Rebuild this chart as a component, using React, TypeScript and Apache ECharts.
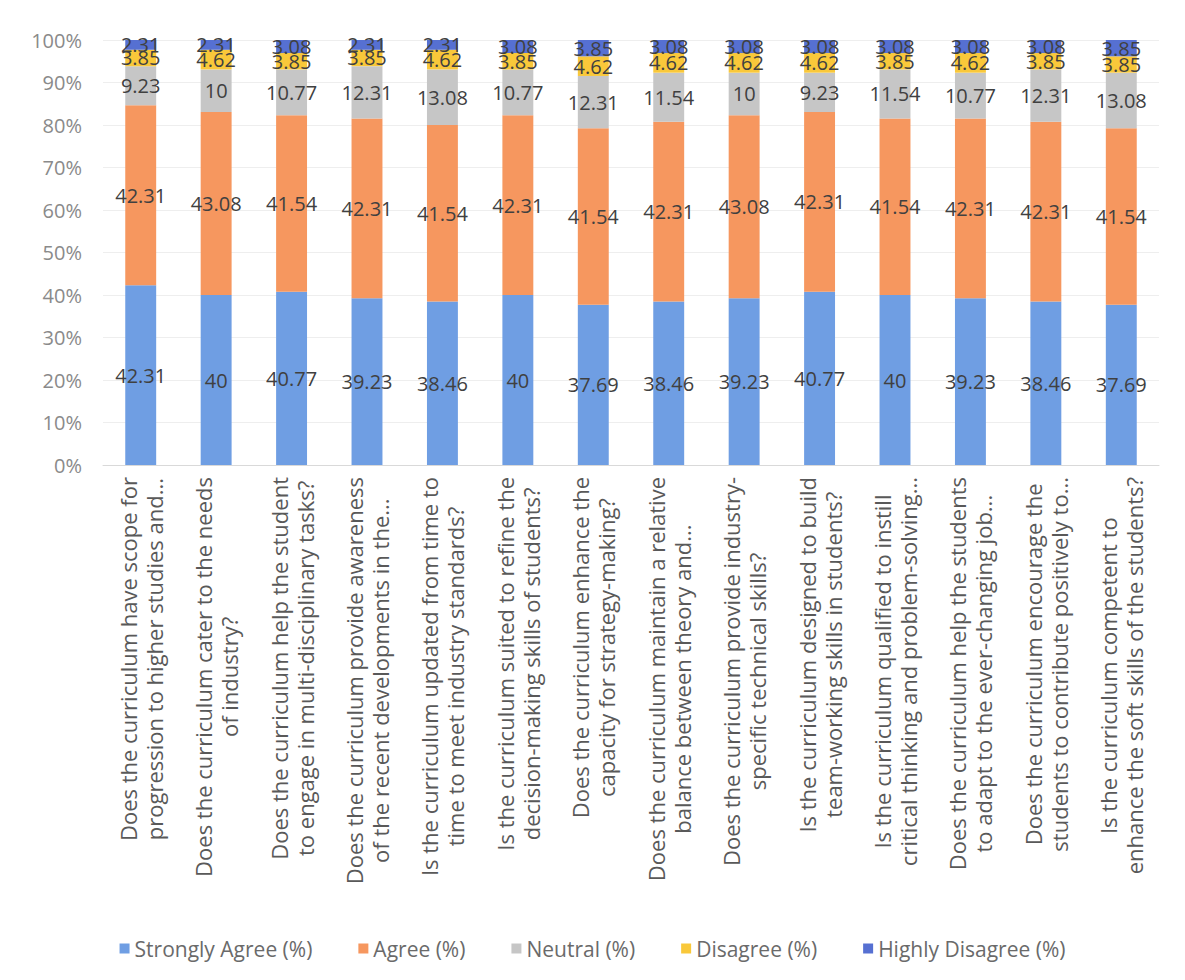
import React, { useEffect, useRef } from "react";
import * as echarts from "echarts";

const categories: string[] = [
  "Does the curriculum have scope for\nprogression to higher studies and...",
  "Does the curriculum cater to the needs\nof industry?",
  "Does the curriculum help the student\nto engage in multi-disciplinary tasks?",
  "Does the curriculum provide awareness\nof the recent developments in the...",
  "Is the curriculum updated from time to\ntime to meet industry standards?",
  "Is the curriculum suited to refine the\ndecision-making skills of students?",
  "Does the curriculum enhance the\ncapacity for strategy-making?",
  "Does the curriculum maintain a relative\nbalance between theory and...",
  "Does the curriculum provide industry-\nspecific technical skills?",
  "Is the curriculum designed to build\nteam-working skills in students?",
  "Is the curriculum qualified to instill\ncritical thinking and problem-solving...",
  "Does the curriculum help the students\nto adapt to the ever-changing job...",
  "Does the curriculum encourage the\nstudents to contribute positively to...",
  "Is the curriculum competent to\nenhance the soft skills of the students?",
];

const seriesNames: string[] = [
  "Strongly Agree (%)",
  "Agree (%)",
  "Neutral (%)",
  "Disagree (%)",
  "Highly Disagree (%)",
];

const stronglyAgree: number[] = [42.31, 40, 40.77, 39.23, 38.46, 40, 37.69, 38.46, 39.23, 40.77, 40, 39.23, 38.46, 37.69];
const agree: number[] = [42.31, 43.08, 41.54, 42.31, 41.54, 42.31, 41.54, 42.31, 43.08, 42.31, 41.54, 42.31, 42.31, 41.54];
const neutral: number[] = [9.23, 10, 10.77, 12.31, 13.08, 10.77, 12.31, 11.54, 10, 9.23, 11.54, 10.77, 12.31, 13.08];
const disagree: number[] = [3.85, 4.62, 3.85, 3.85, 4.62, 3.85, 4.62, 4.62, 4.62, 4.62, 3.85, 4.62, 3.85, 3.85];
const highlyDisagree: number[] = [2.31, 2.31, 3.08, 2.31, 2.31, 3.08, 3.85, 3.08, 3.08, 3.08, 3.08, 3.08, 3.08, 3.85];

const yTicks: number[] = [0, 10, 20, 30, 40, 50, 60, 70, 80, 90, 100];

const colors = ["#6f9ee3", "#f6975f", "#c6c6c6", "#f9c83a", "#5670d2"];
const FONT = "'Open Sans', 'Liberation Sans', sans-serif";

export default function App() {
  const ref = useRef<HTMLDivElement>(null);
  useEffect(() => {
    document.body.style.margin = "0";
    document.body.style.background = "#ffffff";
    if (!ref.current) return;
    const chart = echarts.init(ref.current, undefined, { renderer: "svg" });
    const allData = [stronglyAgree, agree, neutral, disagree, highlyDisagree];
    chart.setOption({
      animation: false,
      backgroundColor: "#ffffff",
      textStyle: { fontFamily: FONT },
      grid: { left: 103, right: 26, top: 40, bottom: 515, containLabel: false },
      legend: {
        data: seriesNames,
        left: "center",
        top: 933,
        itemWidth: 10,
        itemHeight: 10,
        itemGap: 46,
        icon: "rect",
        textStyle: { fontFamily: FONT, fontSize: 21, color: "#6a6a6a" },
      },
      xAxis: {
        type: "category",
        data: categories,
        axisLine: { show: true, lineStyle: { color: "#d9d9d9" } },
        axisTick: { show: false },
        axisLabel: {
          interval: 0,
          rotate: 90,
          margin: 12,
          color: "#595959",
          fontFamily: FONT,
          fontSize: 22,
          lineHeight: 26,
          formatter: (v: string) =>
            v
              .split("\n")
              .map((l) => "{c|" + l + "}")
              .join("\n"),
          rich: {
            c: {
              align: "center",
              fontFamily: FONT,
              fontSize: 22,
              lineHeight: 26,
              color: "#595959",
            },
          },
        },
      },
      yAxis: {
        type: "value",
        min: yTicks[0],
        max: yTicks[yTicks.length - 1],
        interval: 10,
        axisLine: { show: false },
        axisTick: { show: false },
        splitLine: { show: true, lineStyle: { color: "#eeeeee" } },
        axisLabel: {
          margin: 21,
          color: "#8a8a8a",
          fontFamily: FONT,
          fontSize: 20,
          formatter: "{value}%",
        },
      },
      series: seriesNames.map((name, i) => ({
        name,
        type: "bar",
        stack: "total",
        barWidth: "41%",
        data: allData[i],
        itemStyle: { color: colors[i] },
        label: {
          show: true,
          position: "inside",
          color: "#404040",
          fontFamily: FONT,
          fontSize: 20,
          formatter: "{c}",
        },
      })),
    });
    return () => chart.dispose();
  }, []);
  return <div ref={ref} style={{ width: 1185, height: 980 }} />;
}
